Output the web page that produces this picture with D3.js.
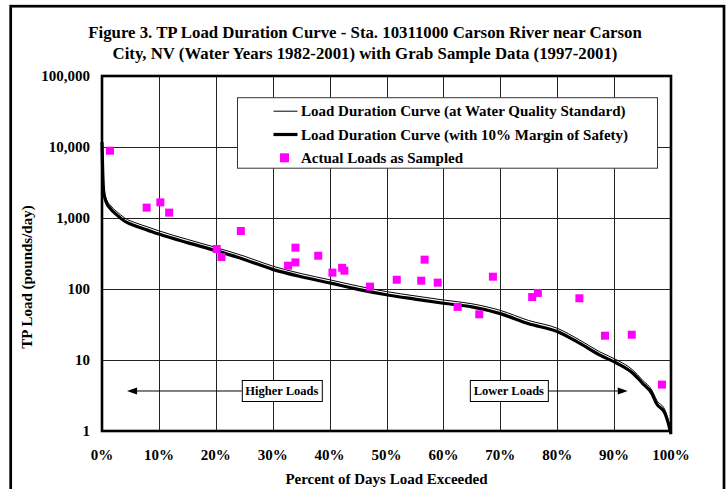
<!DOCTYPE html>
<html>
<head>
<meta charset="utf-8">
<script src="https://cdn.jsdelivr.net/npm/d3@7/dist/d3.min.js"></script>
<style>
  body { margin: 0; background: #fff; }
  svg { display: block; font-family: "Liberation Serif", "Times New Roman", serif; font-weight: bold; }
</style>
</head>
<body>
<svg id="chart" width="726" height="489"></svg>
<script>
// Load duration curve (percent of days exceeded vs load in pounds/day)
var curvePct = [0, 0.1, 0.3, 0.7, 1.5, 2.5, 4, 6, 8, 10, 15, 20, 25, 30, 35, 40, 45, 50, 55, 60, 65, 70, 75, 80, 84, 87.5, 90.5, 93.3, 95, 96.6, 97.5, 98.9, 99.5, 100]
var loadStandard = [13000, 6000, 2600, 1900, 1500, 1250, 1000, 850, 750, 660, 500, 385, 290, 210, 165, 135, 110, 92, 80, 70, 62, 50, 36, 28, 19, 13, 10, 7.2, 5.2, 3.8, 2.7, 2.0, 1.45, 1.0]
var loadMOS = [11700, 5400, 2340, 1710, 1350, 1125, 900, 765, 675, 594, 450, 347, 261, 189, 149, 122, 99, 83, 72, 63, 56, 45, 32.4, 25.2, 17.1, 11.7, 9, 6.5, 4.7, 3.4, 2.4, 1.8, 1.3, 0.9]

// Grab samples 1997-2001
var samplePct = [1.4, 7.85, 10.25, 11.8, 20.15, 21.0, 24.4, 32.7, 34.0, 34.0, 38.0, 40.5, 42.2, 42.6, 47.1, 51.8, 56.1, 56.7, 59.0, 62.5, 66.3, 68.7, 75.6, 76.6, 83.9, 88.4, 93.1, 98.4]
var sampleLoad = [8870, 1400, 1660, 1190, 366, 282, 656, 213, 382, 237, 294, 170, 199, 181, 108, 135, 131, 259, 123, 56, 44, 149, 77, 88, 74, 22, 22.7, 4.5]

var xTicks = [0, 10, 20, 30, 40, 50, 60, 70, 80, 90, 100]
var yTicks = [1, 10, 100, 1000, 10000, 100000]

var titleLines = ['Figure 3. TP Load Duration Curve - Sta. 10311000 Carson River near Carson',
                  'City, NV (Water Years 1982-2001) with Grab Sample Data (1997-2001)']

var svg = d3.select('#chart')

var plotLeft = 102, plotRight = 671, plotTop = 76, plotBottom = 431

var x = d3.scaleLinear().domain([0, 100]).range([plotLeft, plotRight])
var y = d3.scaleLog().domain([1, 100000]).range([plotBottom, plotTop])

// outer frame
svg.append('rect')
    .attr('x', 10.7).attr('y', 6.2)
    .attr('width', 724 - 10.7).attr('height', 500)
    .attr('fill', 'none').attr('stroke', '#000').attr('stroke-width', 2.7)

// title
svg.append('g').selectAll('text')
    .data(titleLines)
    .enter()
    .append('text')
    .attr('x', 365)
    .attr('y', function(d, i) { return 37.5 + i * 21.5 })
    .attr('text-anchor', 'middle')
    .style('font-size', '16.8px')
    .text(function(d) { return d })

// grid
svg.append('g').selectAll('line')
    .data(xTicks.slice(1, -1))
    .enter()
    .append('line')
    .attr('x1', function(d) { return Math.round(x(d)) + 0.5 })
    .attr('x2', function(d) { return Math.round(x(d)) + 0.5 })
    .attr('y1', plotTop).attr('y2', plotBottom)
    .attr('stroke', '#222').attr('stroke-width', 1)

svg.append('g').selectAll('line')
    .data(yTicks.slice(1, -1))
    .enter()
    .append('line')
    .attr('y1', function(d) { return Math.round(y(d)) + 0.5 })
    .attr('y2', function(d) { return Math.round(y(d)) + 0.5 })
    .attr('x1', plotLeft).attr('x2', plotRight)
    .attr('stroke', '#222').attr('stroke-width', 1)

// axes labels
svg.append('g').selectAll('text')
    .data(yTicks)
    .enter()
    .append('text')
    .attr('x', 90)
    .attr('y', function(d) { return y(d) + 5 })
    .attr('text-anchor', 'end')
    .style('font-size', '15px')
    .text(function(d) { return d3.format(',')(d) })

svg.append('g').selectAll('text')
    .data(xTicks)
    .enter()
    .append('text')
    .attr('x', function(d) { return x(d) })
    .attr('y', 460)
    .attr('text-anchor', 'middle')
    .style('font-size', '15px')
    .text(function(d) { return d + '%' })

svg.append('text')
    .attr('x', (plotLeft + plotRight) / 2).attr('y', 484)
    .attr('text-anchor', 'middle')
    .style('font-size', '15px')
    .text('Percent of Days Load Exceeded')

svg.append('text')
    .attr('transform', 'translate(32,277) rotate(-90)')
    .attr('text-anchor', 'middle')
    .style('font-size', '15px')
    .text('TP Load (pounds/day)')

// higher / lower loads annotations
var arrowY = 3.66
var notes = [
    { text: 'Higher Loads', center: 31.6, width: 80, tip: 4.4, side: -1 },
    { text: 'Lower Loads', center: 71.5, width: 78, tip: 92.4, side: 1 }
]
var noteG = svg.append('g').selectAll('g')
    .data(notes)
    .enter()
    .append('g')

noteG.append('line')
    .attr('x1', function(d) { return x(d.center) + d.side * d.width / 2 })
    .attr('x2', function(d) { return x(d.tip) - d.side * 8 })
    .attr('y1', y(arrowY)).attr('y2', y(arrowY))
    .attr('stroke', '#000').attr('stroke-width', 1)

noteG.append('path')
    .attr('d', function(d) {
        var tx = x(d.tip), ty = y(arrowY)
        return 'M' + tx + ',' + ty + 'L' + (tx - d.side * 10) + ',' + (ty - 3.5) + 'L' + (tx - d.side * 10) + ',' + (ty + 3.5) + 'Z'
    })
    .attr('fill', '#000')

noteG.append('rect')
    .attr('x', function(d) { return x(d.center) - d.width / 2 + 0.5 })
    .attr('y', y(arrowY) - 10.5)
    .attr('width', function(d) { return d.width })
    .attr('height', 21)
    .attr('fill', '#fff').attr('stroke', '#000').attr('stroke-width', 1)

noteG.append('text')
    .attr('x', function(d) { return x(d.center) })
    .attr('y', y(arrowY) + 4.5)
    .attr('text-anchor', 'middle')
    .style('font-size', '12.5px')
    .text(function(d) { return d.text })

// curves
var loadLine = d3.line()
    .x(function(d, i) { return x(curvePct[i]) })
    .y(function(d) { return y(d) })
    .curve(d3.curveMonotoneX)

svg.append('path')
    .datum(loadMOS)
    .attr('d', loadLine)
    .attr('fill', 'none').attr('stroke', '#000').attr('stroke-width', 3.2)
    .attr('stroke-linejoin', 'round')

svg.append('path')
    .datum(loadStandard)
    .attr('d', loadLine)
    .attr('fill', 'none').attr('stroke', '#000').attr('stroke-width', 1)

// samples
svg.append('g').selectAll('rect')
    .data(sampleLoad)
    .enter()
    .append('rect')
    .attr('x', function(d, i) { return x(samplePct[i]) - 4 })
    .attr('y', function(d) { return y(d) - 4 })
    .attr('width', 8).attr('height', 8)
    .attr('fill', '#ff00ff')

// plot frame
svg.append('rect')
    .attr('x', plotLeft).attr('y', plotTop)
    .attr('width', plotRight - plotLeft).attr('height', plotBottom - plotTop)
    .attr('fill', 'none').attr('stroke', '#000').attr('stroke-width', 2.6)

// legend
var legendBox = svg.append('g').attr('transform', 'translate(237.5,97.7)')
legendBox.append('rect')
    .attr('width', 420).attr('height', 70.5)
    .attr('fill', '#fff').attr('stroke', '#333').attr('stroke-width', 1)

var legendItems = [
    { label: 'Load Duration Curve (at Water Quality Standard)', type: 'thin' },
    { label: 'Load Duration Curve (with 10% Margin of Safety)', type: 'thick' },
    { label: 'Actual Loads as Sampled', type: 'marker' }
]
var legend = legendBox.selectAll('.legend')
    .data(legendItems)
    .enter()
    .append('g')
    .attr('class', 'legend')
    .attr('transform', function(d, i) { return 'translate(0,' + (13.5 + i * 23.3) + ')' })

legend.filter(function(d) { return d.type !== 'marker' })
    .append('line')
    .attr('x1', 36).attr('x2', 60)
    .attr('y1', 0).attr('y2', 0)
    .attr('stroke', '#000')
    .attr('stroke-width', function(d) { return d.type === 'thick' ? 3.2 : 1 })

legend.filter(function(d) { return d.type === 'marker' })
    .append('rect')
    .attr('x', 42.5).attr('y', -4.5)
    .attr('width', 9).attr('height', 9)
    .attr('fill', '#ff00ff')

legend.append('text')
    .attr('x', 63.5).attr('y', 5.2)
    .style('font-size', '15px')
    .text(function(d) { return d.label })
</script>
</body>
</html>
